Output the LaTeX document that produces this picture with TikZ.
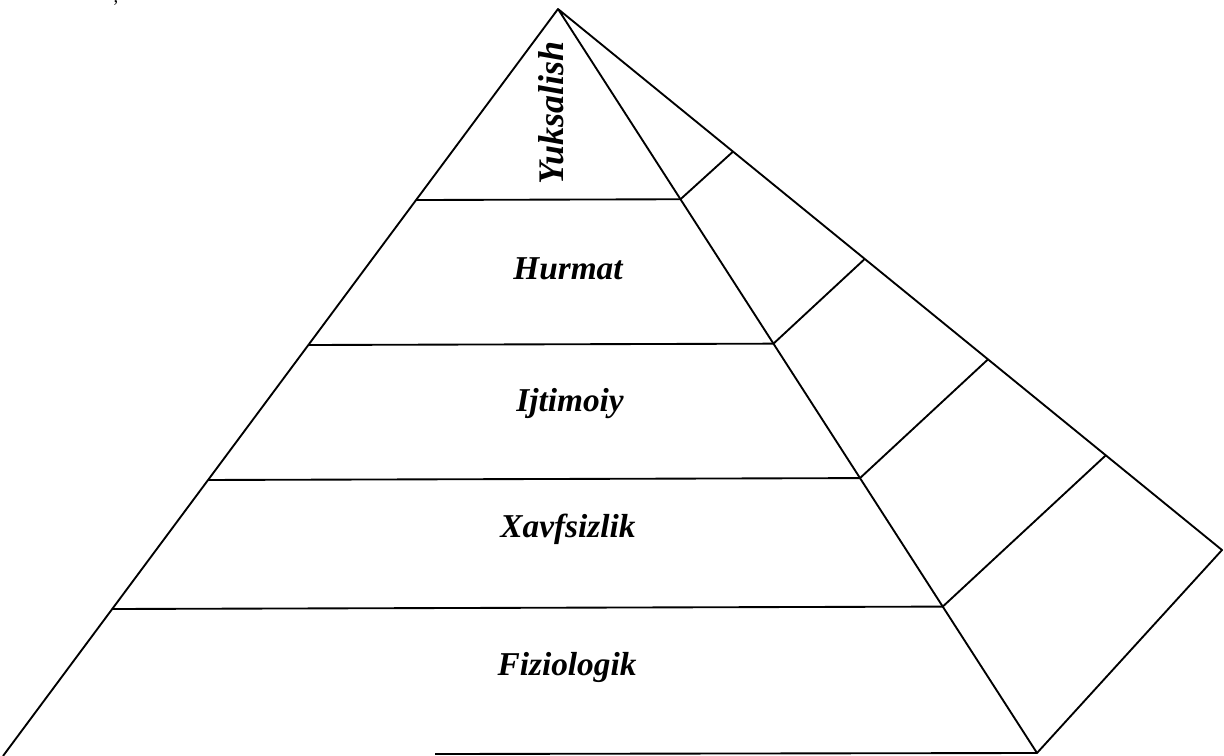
\documentclass[tikz,border=0pt]{standalone}
\usepackage{fontspec}
\setmainfont{Liberation Serif}
\usetikzlibrary{calc}

\tikzset{every picture/.style={line width=1.4pt}}
\tikzset{
  levellabel/.style={anchor=base,inner sep=0.75pt,font=\fontsize{25}{30}\selectfont\bfseries\itshape},
  edge/.style={draw=black,line join=round}
}

\begin{document}
\begin{tikzpicture}[x=0.75pt,y=0.75pt,yscale=-1,xscale=1]
\useasboundingbox (0,0) rectangle (1224,756);

% Corners of the pyramid
\coordinate (apex) at (558,9);
\coordinate (baseL) at (3,756);
\coordinate (baseR) at (1037,753);
\coordinate (backR) at (1222,550);
\coordinate (bottomStart) at (435,754);

% Points on the front edges
\foreach \name/\t in {a/0.2557,b/0.4498,c/0.6305,d/0.8032}{
  \coordinate (L\name) at ($(apex)!\t!(baseL)$);
  \coordinate (R\name) at ($(apex)!\t!(baseR)$);
}
% Points on the side edge
\foreach \name/\s in {a/0.2636,b/0.462,c/0.6476,d/0.825}{
  \coordinate (S\name) at ($(apex)!\s!(backR)$);
}

%Outline
\draw [edge] (baseL) -- (apex) -- (baseR) -- (backR) -- (apex) ;
\draw [edge] (bottomStart) -- (baseR) ;

%Level lines
\foreach \name in {a,b,c,d}{
  \draw [edge] (L\name) -- (R\name) ;
  \draw [edge] (R\name) -- (S\name) ;
}

% Text Node
\draw (563,113) node [levellabel,rotate=90,font=\fontsize{27}{30}\selectfont\bfseries\itshape] (top) {Yuksalish};
% Text Node
\draw (568,279) node [levellabel] (esteem) {Hurmat};
% Text Node
\draw (570,411) node [levellabel] (social) {Ijtimoiy};
% Text Node
\draw (568,537) node [levellabel] (safety) {Xavfsizlik};
% Text Node
\draw (567,675) node [levellabel] (body) {Fiziologik};
% Text Node
\draw (116,3) node [anchor=base,inner sep=0pt,font=\fontsize{14}{16}\selectfont] (mark) {,};

\end{tikzpicture}
\end{document}
